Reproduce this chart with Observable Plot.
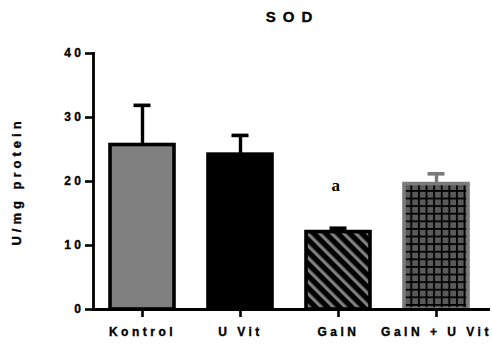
<!DOCTYPE html>
<html><head><meta charset="utf-8">
<script src="https://cdn.jsdelivr.net/npm/d3@7"></script>
<script src="https://cdn.jsdelivr.net/npm/@observablehq/plot@0.6"></script>
<style>body{margin:0;background:#fff}</style>
</head><body><div id="chart"></div>
<script>
const categories = ["Kontrol", "U Vit", "GalN", "GalN + U Vit"];
const means = [25.7, 24.2, 12.1, 19.6];
const errors = [6.2, 3.0, 0.6, 1.6];
const yTicks = [0, 10, 20, 30, 40];
const sigLabels = ["", "", "a", ""];
const title = "SOD";
const yLabel = "U/mg protein";

// styles (kept separate from the data)
const fills = ["#808080", "#000000", "url(#stripes)", "url(#grid)"];
const strokes = ["#000000", "#000000", "#000000", "#7a7a7a"];

const data = categories.map((c, i) => ({
  cat: c, value: means[i], upper: means[i] + errors[i],
  fill: fills[i], stroke: strokes[i], sig: sigLabels[i]
}));

const plot = Plot.plot({
  width: 492, height: 347,
  marginTop: 53, marginBottom: 38, marginLeft: 93, marginRight: 7,
  style: "font-family: 'Liberation Sans', Arial, sans-serif; font-weight: bold; font-size: 12px; letter-spacing: 3.5px; color: #000; background: transparent;",
  x: {type: "band", domain: categories, paddingInner: 0.35, paddingOuter: 0.17, align: 0.5},
  y: {domain: [0, 40]},
  color: {type: "identity"},
  marks: [
    Plot.ruleX(data, {x: "cat", y1: "value", y2: "upper", stroke: "stroke", strokeWidth: 3.4}),
    Plot.tickY(data, {x: "cat", y: "upper", stroke: "stroke", strokeWidth: 3.6, insetLeft: 23.5, insetRight: 23.5}),
    Plot.barY(data, {x: "cat", y: "value", fill: "fill", stroke: "stroke", strokeWidth: 3.6}),
    Plot.ruleY([0], {strokeWidth: 2.8, insetRight: -5}),
    Plot.frame({anchor: "left", strokeWidth: 2.8}),
    Plot.axisY({ticks: yTicks, tickSize: 8, tickPadding: 1, tickFormat: d => d, label: null, strokeWidth: 2.6}),
    Plot.axisX({tickSize: 8, tickPadding: 10, label: null, strokeWidth: 2.6}),
    Plot.text([title], {frameAnchor: "top", dy: -42, dx: 3, fontSize: 15}),
    Plot.text([yLabel], {frameAnchor: "left", textAnchor: "middle", dx: -77, rotate: -90, fontSize: 13}),
    Plot.text(data.filter(d => d.sig), {x: "cat", y: "upper", text: "sig", dy: -43, dx: -1,
      fontFamily: "'Liberation Serif', 'Times New Roman', serif", fontSize: 17, fontWeight: "bold"})
  ]
});

const svg = d3.select(plot);
svg.selectAll("text").attr("font-weight", "bold");
svg.selectAll("text").filter(function() { return this.textContent !== "a"; })
  .attr("stroke", "#000").attr("stroke-width", 0.35);
svg.selectAll("text").filter(function() { return this.textContent === title; }).style("letter-spacing", "7px");
svg.selectAll("text").filter(function() { return this.textContent === yLabel; }).style("letter-spacing", "4px");
const defs = svg.insert("defs", ":first-child");
const st = defs.append("pattern").attr("id", "stripes").attr("patternUnits", "userSpaceOnUse")
  .attr("width", 8.5).attr("height", 8.5).attr("patternTransform", "rotate(-45)");
st.append("rect").attr("width", 8.5).attr("height", 8.5).attr("fill", "#000");
st.append("rect").attr("width", 3.2).attr("height", 8.5).attr("fill", "#808080");
const gr = defs.append("pattern").attr("id", "grid").attr("patternUnits", "userSpaceOnUse")
  .attr("width", 7.6).attr("height", 7.6);
gr.append("rect").attr("width", 7.6).attr("height", 7.6).attr("fill", "#5a5a5a");
gr.append("rect").attr("width", 1.8).attr("height", 7.6).attr("fill", "#000");
gr.append("rect").attr("width", 7.6).attr("height", 1.8).attr("fill", "#000");

document.getElementById("chart").appendChild(plot);
</script>
</body></html>
